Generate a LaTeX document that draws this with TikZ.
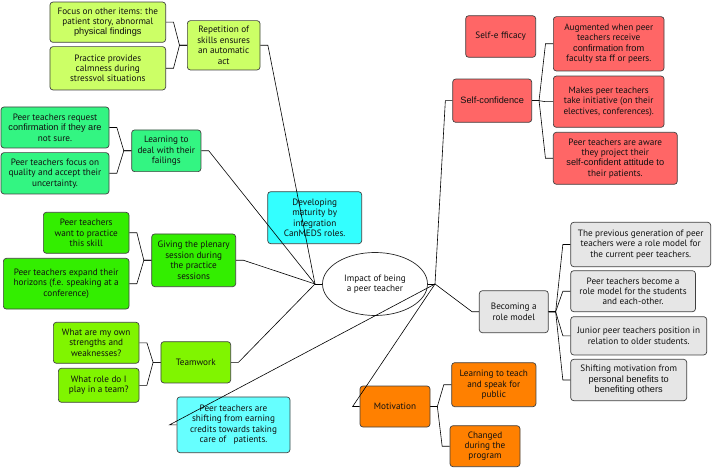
\documentclass[tikz,border=0pt]{standalone}
\usepackage{fontspec}
\setmainfont{PT Sans}
\newfontfamily\arialf{Liberation Sans}
\usetikzlibrary{shapes.geometric}
\definecolor{cRep}{HTML}{CCFF66}
\definecolor{cLrn}{HTML}{33F582}
\definecolor{cPln}{HTML}{33EE00}
\definecolor{cTw}{HTML}{80F500}
\definecolor{cDev}{HTML}{33FFFF}
\definecolor{cShf}{HTML}{66FFFF}
\definecolor{cRed}{HTML}{FF6666}
\definecolor{cGry}{HTML}{E6E6E6}
\definecolor{cOrg}{HTML}{FF8000}
\definecolor{txt}{HTML}{111111}
\tikzset{
  box/.style={draw=black!75, line width=0.7pt, rounded corners=3pt, align=center,
    inner sep=1pt, text=txt, font=\fontsize{9.2}{10.4}\selectfont},
  link/.style={draw=black, line width=0.6pt},
}
\newcommand{\bx}[6]{\node[box, fill=#4, minimum width=#5pt, minimum height=#6pt] (#1) at (#2,#3)}
\begin{document}
\begin{tikzpicture}[x=1pt,y=-1pt]
\useasboundingbox (0,0) rectangle (713,468);
% center
\node[ellipse, draw=black!85, line width=0.7pt, minimum width=105pt, minimum height=63pt, align=center, text=txt, font=\fontsize{9.2}{10.4}\selectfont] (ctr) at (375,284) {Impact of being\\a peer teacher};
\coordinate (hl) at (315,284);
\coordinate (hr) at (435,284);
% left groups
\bx{rep}{223.7}{45.3}{cRep}{72.7}{49.3} {Repetition of\\skills ensures\\an automatic\\act};
\bx{rep1}{107.8}{22.2}{cRep}{115.7}{40.3} {Focus on other items: the\\patient story, abnormal\\{\arialf physical findings}};
\bx{rep2}{107.8}{68.3}{cRep}{115.7}{43.3} {Practice provides\\calmness during\\stressvol situations};
\bx{lrn}{166.3}{150.8}{cLrn}{69.3}{41.7} {Learning to\\deal with their\\failings};
\bx{lrn1}{55}{127.5}{cLrn}{108}{41} {Peer teachers request\\{\arialf confirmation if they are}\\not sure.};
\bx{lrn2}{55}{173.3}{cLrn}{108}{41.3} {Peer teachers focus on\\quality and accept their\\uncertainty.};
\bx{pln}{193.7}{260.3}{cPln}{84}{52.7} {Giving the plenary\\session during\\the practice\\sessions};
\bx{pln1}{86.2}{232.8}{cPln}{85.7}{41} {Peer teachers\\want to practice\\this skill};
\bx{pln2}{66.2}{283.7}{cPln}{125.7}{50.7} {Peer teachers expand their\\horizons (f.e. speaking at a\\conference)};
\bx{tw}{195.8}{362.3}{cTw}{69.7}{41.3} {Teamwork};
\bx{tw1}{96.2}{342.8}{cTw}{85.7}{41} {What are my own\\strengths and\\weaknesses?};
\bx{tw2}{98.7}{385.3}{cTw}{80.7}{34} {What role do I\\play in a team?};
\bx{dev}{314.7}{217.7}{cDev}{94}{52} {Developing\\maturity by\\integration\\CanMEDS roles.};
\bx{shf}{233.5}{424.8}{cShf}{113}{55.7} {Peer teachers are\\shifting from earning\\credits towards taking\\care of \ \ patients.};
% right groups
\bx{eff}{500.7}{36.5}{cRed}{70}{41.6} {Self-e fficacy};
\bx{sc}{492.2}{100.7}{cRed}{79}{43.3} {{\arialf Self-confidence}};
\bx{sc1}{608.7}{43.8}{cRed}{110.7}{54.3} {Augmented when peer\\teachers receive\\{\arialf confirmation from}\\faculty sta ff or peers.};
\bx{sc2}{608.7}{101.7}{cRed}{110.7}{51.3} {Makes peer teachers\\take initiative (on their\\electives, conferences).};
\bx{sc3}{615.3}{158.3}{cRed}{124}{52} {Peer teachers are aware\\they project their\\{\arialf self-confident attitude to}\\their patients.};
\bx{rm}{513.8}{311.7}{cGry}{69}{42} {Becoming a\\role model};
\bx{rm1}{640.7}{244.5}{cGry}{140}{44.4} {The previous generation of peer\\teachers were a role model for\\the current peer teachers.};
\bx{rm2}{633.1}{291.2}{cGry}{124.8}{41} {Peer teachers become a\\role model for the students\\and each-other.};
\bx{rm3}{638.7}{335.8}{cGry}{136}{38.3} {Junior peer teachers position in\\relation to older students.};
\bx{rm4}{628.7}{380}{cGry}{116}{41.4} {Shifting motivation from\\{\arialf personal benefits to}\\{\arialf benefiting others}};
\bx{mot}{395}{406.5}{cOrg}{70}{41} {Motivation};
\bx{mot1}{493.8}{384.7}{cOrg}{84.3}{44} {Learning to teach\\and speak for\\public};
\bx{mot2}{485}{446.2}{cOrg}{70}{41} {Changed\\during the\\program};
% hub links
\draw[link] (ctr.west) -- (hl);
\draw[link] (ctr.east) -- (hr);
\foreach \n in {rep,lrn,pln,tw}{
  \draw[link] (\n.east) -- ++(7.5,0) -- (hl);
}
\foreach \n in {sc,rm,mot,shf}{
  \draw[link] (\n.west) -- ++(-7,0) -- (hr);
}
% brackets, left
\foreach \p/\c in {rep/rep1,rep/rep2,lrn/lrn1,lrn/lrn2,pln/pln1,pln/pln2,tw/tw1,tw/tw2}{
  \draw[link] (\p.west) -- ++(-7.5,0) -- ([xshift=7.5pt]\c.east) -- (\c.east);
}
% brackets, right
\foreach \p/\c in {sc/sc1,sc/sc2,sc/sc3,rm/rm1,rm/rm2,rm/rm3,rm/rm4,mot/mot1,mot/mot2}{
  \draw[link] (\p.east) -- ++(7,0) -- ([xshift=-7.5pt]\c.west) -- (\c.west);
}
\end{tikzpicture}
\end{document}
